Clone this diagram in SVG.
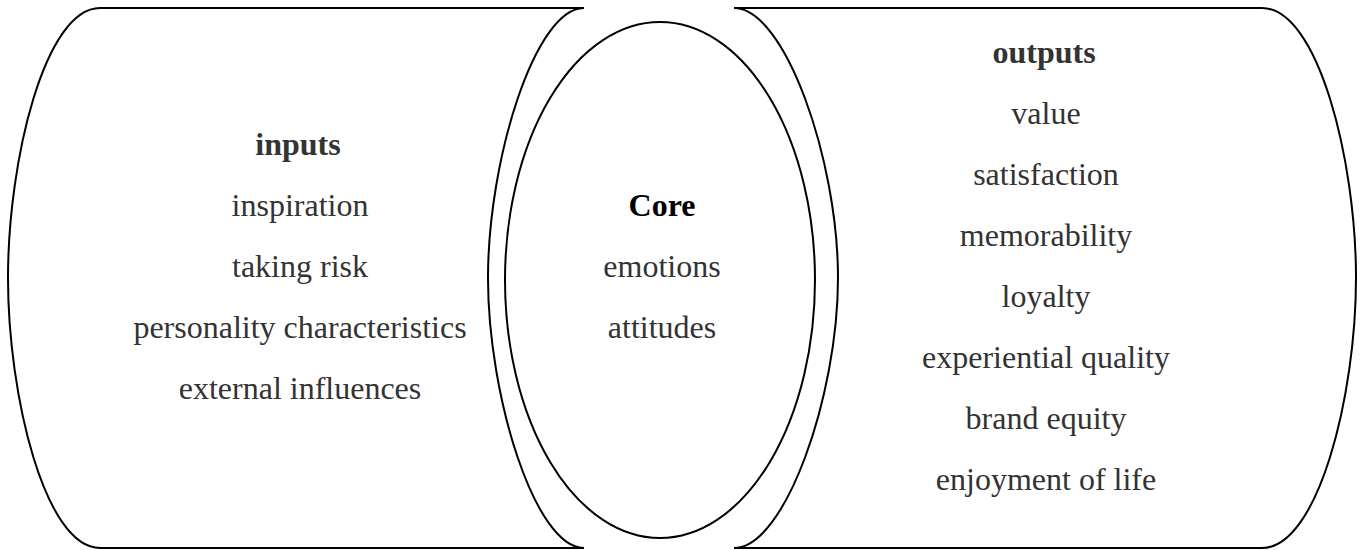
<svg xmlns="http://www.w3.org/2000/svg" width="1360" height="550" viewBox="0 0 1360 550">
  <style>
    .shape { fill: none; stroke: #000; stroke-width: 2; }
    text { font-family: "Liberation Serif", "Times New Roman", serif; font-size: 32px; fill: #333; text-anchor: middle; }
    .title { font-weight: bold; }
    .core { fill: #000; }
  </style>
  <rect width="1360" height="550" fill="#fff"/>
  <g id="inputs">
    <path class="shape" d="M100,8 L584,8 C535,8 488,160 488,278 C488,396 535,548 584,548 L100,548 C45,548 8,396 8,278 C8,160 45,8 100,8 Z"/>
    <text class="title" x="298" y="155">inputs</text>
    <text x="300" y="216">inspiration</text>
    <text x="300" y="277">taking risk</text>
    <text x="300" y="338">personality characteristics</text>
    <text x="300" y="399">external influences</text>
  </g>
  <g id="core">
    <ellipse class="shape" cx="660" cy="280" rx="155" ry="258"/>
    <text class="title core" x="662" y="216">Core</text>
    <text x="662" y="277">emotions</text>
    <text x="662" y="338">attitudes</text>
  </g>
  <g id="outputs">
    <path class="shape" d="M734,8 L1262,8 C1318,8 1356,160 1356,278 C1356,396 1318,548 1262,548 L734,548 C785,548 838,396 838,278 C838,160 785,8 734,8 Z"/>
    <text class="title" x="1044" y="63">outputs</text>
    <text x="1046" y="124">value</text>
    <text x="1046" y="185">satisfaction</text>
    <text x="1046" y="246">memorability</text>
    <text x="1046" y="307">loyalty</text>
    <text x="1046" y="368">experiential quality</text>
    <text x="1046" y="429">brand equity</text>
    <text x="1046" y="490">enjoyment of life</text>
  </g>
  <g id="connectors"></g>
</svg>
